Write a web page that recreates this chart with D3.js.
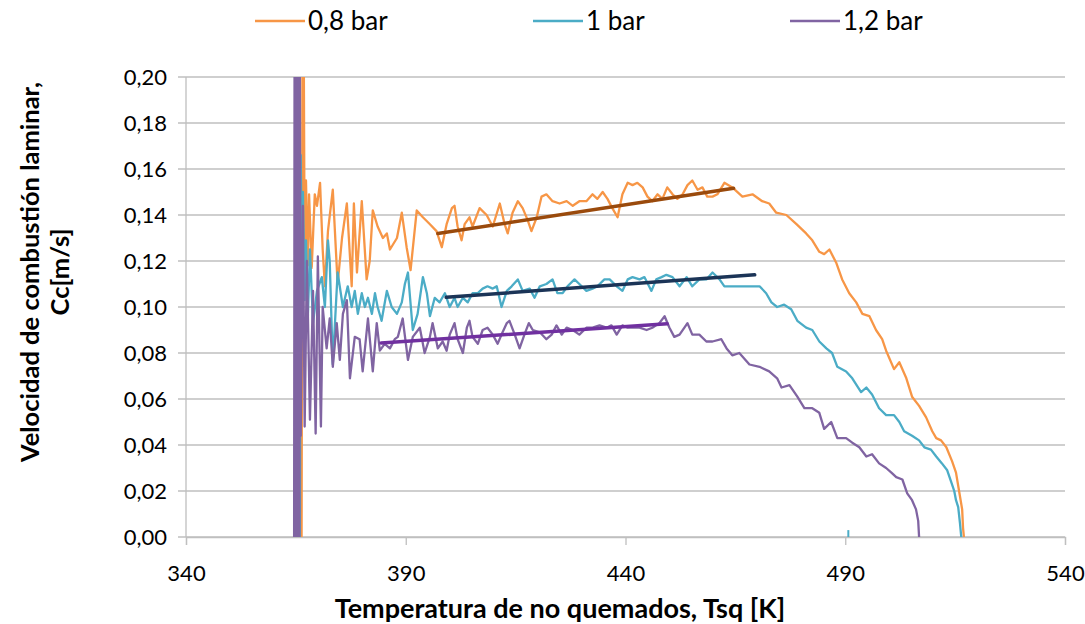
<!DOCTYPE html>
<html>
<head>
<meta charset="utf-8">
<script src="https://cdn.jsdelivr.net/npm/d3@7"></script>
<style>
  body { margin: 0; background: #fff; }
  text { font-family: Lato, "Open Sans", sans-serif; fill: #000; }
</style>
</head>
<body>
<svg id="chart" width="1085" height="624"></svg>
<script>
// series names, colours, ticks
const seriesNames = ['0,8 bar', '1 bar', '1,2 bar'];
const seriesColors = ['#f79646', '#4bacc6', '#8064a2'];
const trendColors = ['#9a4a0c', '#1b3457', '#7030a0'];
const xTicks = [340, 390, 440, 490, 540];
const yTicks = [0, 0.02, 0.04, 0.06, 0.08, 0.10, 0.12, 0.14, 0.16, 0.18, 0.20];

// [Tsq K, Cc m/s]
const bar08 = [
  [366.3,0],[366.5,0.21],[366.8,0.21],[367.0,0.116],[367.3,0.155],[367.7,0.118],[368.0,0.149],
  [368.6,0.117],[369.3,0.149],[369.8,0.144],[370.5,0.154],[371.1,0.125],[371.6,0.109],[372.3,0.133],
  [373.4,0.151],[374.5,0.110],[375.5,0.130],[376.6,0.145],[377.7,0.109],[378.2,0.145],[378.9,0.115],
  [380.0,0.146],[381.1,0.112],[381.8,0.120],[382.5,0.142],[383.6,0.135],[384.8,0.130],[385.7,0.132],
  [386.4,0.125],[388.0,0.130],[389.1,0.141],[390.2,0.126],[391.1,0.116],[392.5,0.142],[393.9,0.139],
  [395.5,0.136],[397.0,0.133],[398.2,0.126],[399.3,0.136],[400.5,0.143],[401.1,0.144],[401.8,0.135],
  [402.7,0.129],[403.4,0.136],[404.5,0.139],[405.2,0.135],[406.8,0.143],[408.4,0.140],[409.8,0.135],
  [411.4,0.145],[412.5,0.136],[413.2,0.132],[414.3,0.141],[415.5,0.146],[416.6,0.143],[417.7,0.138],
  [418.6,0.133],[419.8,0.139],[420.9,0.148],[422.0,0.149],[423.4,0.146],[425.0,0.145],[426.6,0.146],
  [428.0,0.144],[429.5,0.146],[431.1,0.146],[432.5,0.149],[433.6,0.147],[434.8,0.150],[435.9,0.147],
  [437.0,0.143],[438.2,0.139],[439.3,0.149],[440.5,0.154],[441.6,0.153],[442.7,0.154],[443.9,0.152],
  [445.0,0.148],[446.1,0.146],[447.3,0.149],[448.4,0.147],[449.5,0.152],[450.7,0.149],[451.8,0.147],
  [453.0,0.149],[454.1,0.153],[455.2,0.155],[456.4,0.151],[457.5,0.152],[458.6,0.148],[459.8,0.148],
  [460.9,0.149],[462.5,0.154],[464.3,0.152],[466.6,0.148],[468.9,0.149],[471.1,0.146],[472.7,0.145],
  [474.3,0.141],[476.6,0.140],[478.9,0.136],[481.1,0.132],[482.5,0.129],[484.1,0.124],[485.2,0.123],
  [486.4,0.125],[488.0,0.119],[489.3,0.112],[490.9,0.106],[492.5,0.102],[493.9,0.097],[495.5,0.096],
  [497.0,0.090],[498.4,0.086],[499.3,0.081],[501.1,0.073],[502.3,0.076],[503.9,0.069],[505.2,0.061],
  [506.8,0.057],[508.4,0.052],[509.8,0.046],[510.7,0.043],[511.8,0.042],[513.0,0.039],[514.3,0.033],
  [515.2,0.028],[515.9,0.020],[516.6,0.012],[516.8,0.004],[517.0,0]
];

const bar10 = [
  [365.9,0],[366.1,0.166],[366.4,0.107],[366.6,0.150],[367.0,0.103],[367.3,0.129],[367.7,0.094],
  [368.2,0.125],[368.9,0.093],[369.8,0.107],[370.9,0.113],[371.6,0.100],[372.3,0.129],[372.7,0.120],
  [373.4,0.075],[374.5,0.115],[375.7,0.100],[376.8,0.109],[377.7,0.100],[378.4,0.107],[379.1,0.097],
  [380.0,0.106],[380.7,0.100],[381.4,0.104],[382.3,0.097],[383.0,0.106],[383.6,0.100],[384.5,0.094],
  [385.7,0.107],[386.8,0.100],[388.0,0.097],[389.1,0.102],[389.8,0.110],[390.5,0.115],[391.6,0.090],
  [392.7,0.097],[393.9,0.113],[394.8,0.106],[395.5,0.096],[396.6,0.104],[397.7,0.102],[398.9,0.106],
  [400.0,0.100],[401.1,0.104],[401.8,0.100],[403.0,0.104],[404.1,0.102],[405.2,0.106],[406.4,0.106],
  [407.5,0.108],[408.6,0.109],[409.8,0.108],[410.7,0.109],[411.8,0.100],[413.0,0.107],[414.1,0.109],
  [415.5,0.112],[416.6,0.107],[418.2,0.108],[419.3,0.104],[420.5,0.109],[422.0,0.110],[423.4,0.112],
  [424.5,0.106],[425.7,0.106],[426.8,0.109],[428.4,0.112],[429.5,0.110],[431.1,0.107],[432.5,0.108],
  [433.6,0.109],[435.2,0.112],[436.4,0.112],[438.0,0.109],[439.3,0.107],[440.5,0.112],[441.6,0.113],
  [443.2,0.112],[444.3,0.113],[445.9,0.107],[447.0,0.112],[448.2,0.113],[449.3,0.114],[450.7,0.113],
  [452.3,0.109],[453.9,0.113],[455.2,0.109],[456.8,0.112],[458.4,0.112],[459.8,0.115],[461.4,0.112],
  [462.5,0.109],[464.3,0.109],[466.4,0.109],[467.7,0.109],[469.3,0.109],[470.5,0.109],[472.0,0.106],
  [473.2,0.102],[474.5,0.100],[476.1,0.101],[477.7,0.099],[479.1,0.094],[481.1,0.091],[482.5,0.090],
  [484.1,0.085],[485.7,0.082],[487.0,0.080],[488.2,0.074],[490.2,0.072],[491.6,0.069],[493.6,0.063],
  [494.8,0.065],[496.1,0.062],[497.7,0.056],[499.3,0.053],[501.1,0.053],[502.3,0.050],[503.4,0.046],
  [505.2,0.044],[506.8,0.042],[508.0,0.039],[509.5,0.038],[510.7,0.035],[512.0,0.032],[513.2,0.029],
  [514.1,0.024],[514.8,0.020],[515.2,0.016],[515.7,0.013],[516.1,0.006],[516.4,0]
];
// short stray piece of the 1 bar record near the axis
const bar10Stray = [[490.7,0],[490.7,0.003]];

const bar12 = [
  [364.6,0],[364.7,0.21],[364.8,0],[364.9,0.21],[365.0,0],[365.1,0.21],[365.2,0],[365.3,0.21],
  [365.4,0],[365.5,0.21],[365.6,0],[365.7,0.21],[365.8,0],[365.9,0.21],[366.1,0.044],[366.6,0.144],
  [367.0,0.048],[367.5,0.120],[368.2,0.051],[368.9,0.107],[369.5,0.045],[370.0,0.122],[370.7,0.048],
  [371.1,0.100],[372.0,0.082],[372.7,0.095],[373.4,0.074],[374.3,0.093],[375.0,0.077],[375.7,0.097],
  [376.6,0.103],[377.3,0.069],[378.4,0.087],[379.5,0.086],[380.2,0.072],[381.4,0.095],[382.5,0.072],
  [383.4,0.093],[384.1,0.081],[385.2,0.084],[386.4,0.082],[387.5,0.086],[388.2,0.087],[389.3,0.095],
  [390.5,0.077],[391.6,0.087],[393.2,0.091],[394.3,0.080],[395.5,0.087],[396.1,0.093],[397.3,0.082],
  [398.4,0.085],[399.3,0.081],[400.0,0.088],[401.1,0.093],[401.8,0.086],[403.0,0.080],[403.9,0.091],
  [404.5,0.094],[405.2,0.087],[406.4,0.084],[407.5,0.090],[408.6,0.091],[409.8,0.088],[410.9,0.084],
  [411.8,0.088],[413.0,0.093],[413.6,0.094],[414.8,0.088],[415.9,0.082],[417.0,0.088],[418.0,0.093],
  [418.9,0.090],[420.5,0.089],[422.0,0.086],[423.2,0.088],[424.3,0.092],[425.5,0.088],[426.6,0.091],
  [428.0,0.090],[429.5,0.088],[431.1,0.091],[432.5,0.091],[434.1,0.092],[435.7,0.091],[436.8,0.092],
  [438.0,0.088],[439.3,0.092],[440.5,0.091],[442.0,0.091],[443.2,0.091],[444.8,0.090],[446.1,0.091],
  [447.7,0.093],[448.9,0.096],[450.0,0.091],[451.1,0.087],[452.3,0.088],[453.4,0.091],[454.1,0.093],
  [455.2,0.088],[456.8,0.088],[458.4,0.085],[459.8,0.085],[461.8,0.086],[463.0,0.082],[464.3,0.079],
  [465.9,0.080],[468.2,0.075],[470.5,0.074],[472.7,0.072],[474.5,0.069],[475.5,0.065],[477.3,0.066],
  [479.1,0.061],[480.7,0.056],[482.5,0.056],[484.1,0.054],[485.2,0.047],[486.8,0.050],[488.2,0.043],
  [490.2,0.043],[491.6,0.041],[493.2,0.039],[494.8,0.035],[496.1,0.036],[497.7,0.032],[499.3,0.030],
  [500.5,0.028],[501.6,0.026],[503.0,0.025],[504.1,0.019],[505.2,0.016],[506.1,0.012],[506.6,0.007],
  [506.8,0]
];

// linear trend segments drawn over the flat part of each record
const trend08 = [[397.3,0.132],[464.6,0.1516]];
const trend10 = [[399.2,0.1042],[469.4,0.1140]];
const trend12 = [[384.4,0.0844],[449.5,0.0927]];

const svg = d3.select('#chart');
const margin = { left: 186, right: 20, top: 77, bottom: 87 };
const W = 1085, H = 624;

const x = d3.scaleLinear().domain([340, 540]).range([margin.left, W - margin.right]);
const y = d3.scaleLinear().domain([0, 0.20]).range([H - margin.bottom, margin.top]);

const grey = '#bfbfbf';

// gridlines
svg.append('g')
  .selectAll('line')
  .data(yTicks)
  .join('line')
  .attr('x1', x(340) - 8).attr('x2', x(540))
  .attr('y1', d => y(d)).attr('y2', d => y(d))
  .attr('stroke', grey).attr('stroke-width', 1.3);

// left axis line
svg.append('line')
  .attr('x1', x(340)).attr('x2', x(340))
  .attr('y1', y(0.20)).attr('y2', y(0))
  .attr('stroke', grey).attr('stroke-width', 1.3);

// x axis
const xAxis = d3.axisBottom(x).tickValues(xTicks).tickSize(8).tickFormat(d3.format('d'));
const gx = svg.append('g').attr('transform', `translate(0,${y(0)})`).call(xAxis);
gx.select('.domain').attr('stroke', grey).attr('stroke-width', 1.3);
gx.selectAll('.tick line').attr('stroke', grey).attr('stroke-width', 1.3);
gx.selectAll('.tick text')
  .attr('dy', 0).attr('y', 44)
  .style('font-size', '22px').style('font-family', 'Lato, sans-serif').attr('fill', '#000');

// y axis labels
const fmt = d => d3.format('.2f')(d).replace('.', ',');
svg.append('g')
  .selectAll('text')
  .data(yTicks)
  .join('text')
  .attr('x', x(340) - 19)
  .attr('y', d => y(d))
  .attr('dy', '0.35em')
  .attr('text-anchor', 'end')
  .style('font-size', '22px')
  .text(fmt);

// clip for plot area
svg.append('defs').append('clipPath').attr('id', 'plot')
  .append('rect')
  .attr('x', x(340)).attr('y', y(0.20))
  .attr('width', x(540) - x(340)).attr('height', y(0) - y(0.20));

const line = d3.line().x(d => x(d[0])).y(d => y(d[1]));
const plot = svg.append('g').attr('clip-path', 'url(#plot)');

const records = [bar08, bar10, bar12];
records.forEach((data, i) => {
  plot.append('path')
    .attr('d', line(data))
    .attr('fill', 'none')
    .attr('stroke', seriesColors[i])
    .attr('stroke-width', 2.3)
    .attr('stroke-linejoin', 'round');
});
plot.append('path')
  .attr('d', line(bar10Stray))
  .attr('fill', 'none')
  .attr('stroke', seriesColors[1])
  .attr('stroke-width', 2);

[trend08, trend10, trend12].forEach((data, i) => {
  plot.append('path')
    .attr('d', line(data))
    .attr('fill', 'none')
    .attr('stroke', trendColors[i])
    .attr('stroke-width', 3.5)
    .attr('stroke-linecap', 'round');
});

// legend
const legendX = [255, 533, 790];
const lg = svg.append('g');
seriesNames.forEach((name, i) => {
  lg.append('line')
    .attr('x1', legendX[i]).attr('x2', legendX[i] + 50)
    .attr('y1', 21).attr('y2', 21)
    .attr('stroke', seriesColors[i]).attr('stroke-width', 2.3);
  lg.append('text')
    .attr('x', legendX[i] + 53).attr('y', 21)
    .attr('dy', '0.35em')
    .style('font-size', '26px')
    .text(name);
});

// axis titles
svg.append('text')
  .attr('x', 560).attr('y', 618)
  .attr('text-anchor', 'middle')
  .style('font-size', '27px').style('font-weight', 'bold')
  .text('Temperatura de no quemados, Tsq [K]');

const yt = svg.append('text')
  .attr('transform', 'translate(0,272) rotate(-90)')
  .attr('text-anchor', 'middle')
  .style('font-size', '25.5px').style('font-weight', 'bold');
yt.append('tspan').attr('x', 0).attr('y', 39).text('Velocidad de combustión laminar,');
yt.append('tspan').attr('x', 0).attr('y', 69).text('Cc[m/s]');
</script>
</body>
</html>
